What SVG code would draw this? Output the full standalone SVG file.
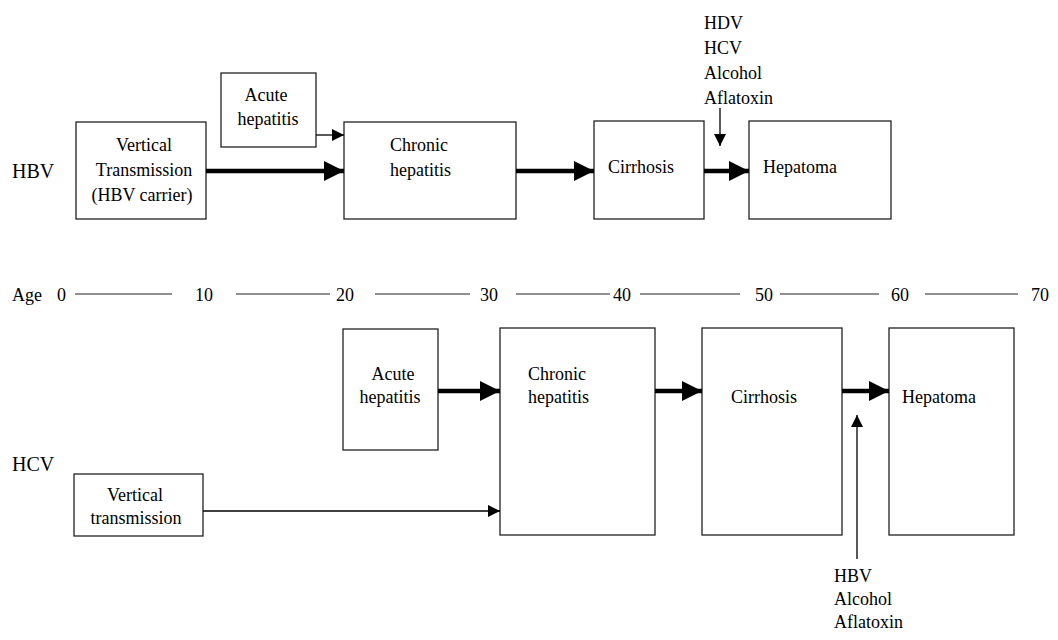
<svg xmlns="http://www.w3.org/2000/svg" width="1058" height="640" viewBox="0 0 1058 640">
<defs>
<style>
text{font-size:18px;fill:#000}
.lbl{font-size:20px}
.box{fill:#fff;stroke:#222;stroke-width:1.3}
.thick{stroke:#000;stroke-width:4.5;fill:none}
.thin{stroke:#000;stroke-width:1.3;fill:none}
.axis{stroke:#222;stroke-width:1.2}
.c{text-anchor:middle}
</style>
<marker id="bigHead" markerUnits="userSpaceOnUse" markerWidth="20" markerHeight="20" refX="20" refY="10" orient="auto" viewBox="0 0 20 20">
<path d="M0,0 L20,10 L0,20 Z" fill="#000"/>
</marker>
<marker id="smallHead" markerUnits="userSpaceOnUse" markerWidth="12" markerHeight="12" refX="12" refY="6" orient="auto" viewBox="0 0 12 12">
<path d="M0,0 L12,6 L0,12 Z" fill="#000"/>
</marker>
</defs>
<rect width="1058" height="640" fill="#fff"/>
<g font-family="Liberation Serif, Times New Roman, serif">

<text class="lbl" x="12" y="178">HBV</text>
<text class="lbl" x="12" y="471">HCV</text>

<g id="axis">
<text x="12" y="301">Age</text>
<text x="57" y="301">0</text>
<text x="195" y="301">10</text>
<text x="336" y="301">20</text>
<text x="480" y="301">30</text>
<text x="613" y="301">40</text>
<text x="755" y="301">50</text>
<text x="891" y="301">60</text>
<text x="1031" y="301">70</text>
<line class="axis" x1="75" y1="294" x2="172" y2="294"/>
<line class="axis" x1="236" y1="294" x2="330" y2="294"/>
<line class="axis" x1="375" y1="294" x2="470" y2="294"/>
<line class="axis" x1="516" y1="294" x2="610" y2="294"/>
<line class="axis" x1="640" y1="294" x2="740" y2="294"/>
<line class="axis" x1="780" y1="294" x2="879" y2="294"/>
<line class="axis" x1="925" y1="294" x2="1018" y2="294"/>
</g>

<g id="hbv-vertical">
<rect class="box" x="76" y="122" width="130" height="97"/>
<text class="c" x="144" y="151">Vertical</text>
<text class="c" x="144" y="176">Transmission</text>
<text class="c" x="142" y="201">(HBV carrier)</text>
</g>
<g id="hbv-acute">
<rect class="box" x="221" y="73" width="95" height="74"/>
<text class="c" x="266" y="101">Acute</text>
<text class="c" x="268" y="125">hepatitis</text>
</g>
<g id="hbv-chronic">
<rect class="box" x="344" y="122" width="172" height="97"/>
<text x="390" y="151">Chronic</text>
<text x="390" y="176">hepatitis</text>
</g>
<g id="hbv-cirrhosis">
<rect class="box" x="594" y="121" width="110" height="98"/>
<text x="608" y="173">Cirrhosis</text>
</g>
<g id="hbv-hepatoma">
<rect class="box" x="749" y="121" width="142" height="98"/>
<text x="763" y="173">Hepatoma</text>
</g>
<g id="hbv-cofactors">
<text x="704" y="29">HDV</text>
<text x="704" y="54">HCV</text>
<text x="704" y="79">Alcohol</text>
<text x="704" y="104">Aflatoxin</text>
</g>

<g id="hcv-acute">
<rect class="box" x="343" y="329" width="95" height="121"/>
<text class="c" x="393" y="380">Acute</text>
<text class="c" x="390" y="403">hepatitis</text>
</g>
<g id="hcv-chronic">
<rect class="box" x="500" y="328" width="155" height="207"/>
<text x="528" y="380">Chronic</text>
<text x="528" y="403">hepatitis</text>
</g>
<g id="hcv-cirrhosis">
<rect class="box" x="702" y="328" width="140" height="207"/>
<text x="731" y="403">Cirrhosis</text>
</g>
<g id="hcv-hepatoma">
<rect class="box" x="889" y="328" width="125" height="207"/>
<text x="902" y="403">Hepatoma</text>
</g>
<g id="hcv-vertical">
<rect class="box" x="74" y="474" width="129" height="62"/>
<text class="c" x="135" y="501">Vertical</text>
<text class="c" x="136" y="524">transmission</text>
</g>
<g id="hcv-cofactors">
<text x="834" y="582">HBV</text>
<text x="834" y="605">Alcohol</text>
<text x="834" y="628">Aflatoxin</text>
</g>
</g>

<g id="connectors">
<line class="thick" x1="206" y1="171" x2="344" y2="171" marker-end="url(#bigHead)"/>
<line class="thin" x1="316" y1="135" x2="344" y2="135" marker-end="url(#smallHead)"/>
<line class="thick" x1="516" y1="171" x2="594" y2="171" marker-end="url(#bigHead)"/>
<line class="thick" x1="704" y1="171" x2="749" y2="171" marker-end="url(#bigHead)"/>
<line class="thin" x1="720" y1="108" x2="720" y2="146" marker-end="url(#smallHead)"/>
<line class="thick" x1="438" y1="391" x2="500" y2="391" marker-end="url(#bigHead)"/>
<line class="thick" x1="655" y1="391" x2="702" y2="391" marker-end="url(#bigHead)"/>
<line class="thick" x1="842" y1="391" x2="889" y2="391" marker-end="url(#bigHead)"/>
<line class="thin" x1="203" y1="511" x2="500" y2="511" marker-end="url(#smallHead)"/>
<line class="thin" x1="857" y1="559" x2="857" y2="415" marker-end="url(#smallHead)"/>
</g>
</svg>
